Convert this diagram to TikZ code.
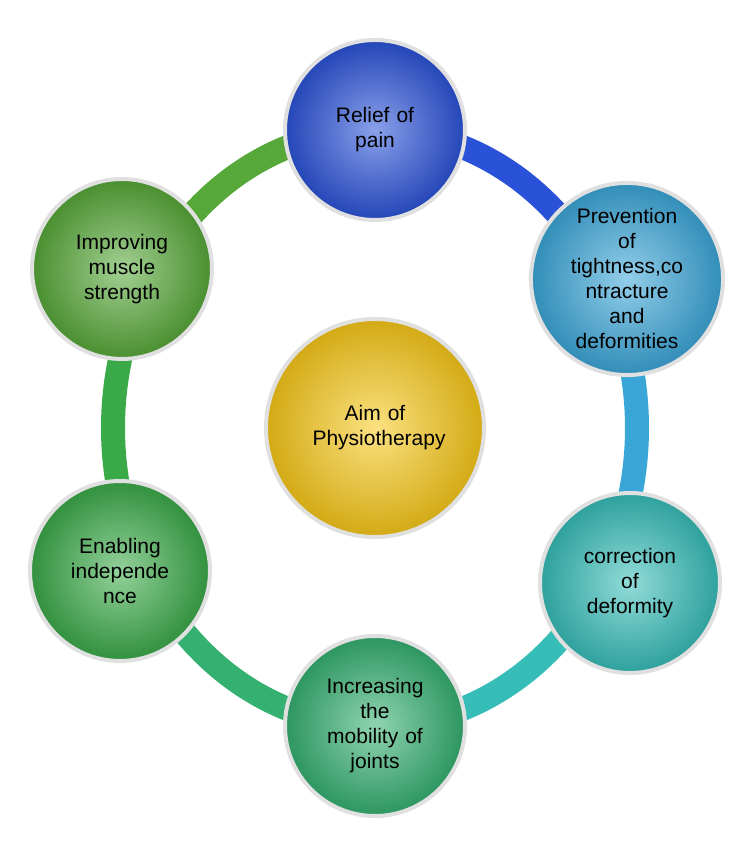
\documentclass[tikz,border=0pt]{standalone}
\usepackage{fontspec}
\setmainfont{Liberation Sans}
\usetikzlibrary{positioning,shadings}
\definecolor{cTop}{HTML}{2A52D8}
\definecolor{cTR}{HTML}{3AA6D8}
\definecolor{cBR}{HTML}{36BDB8}
\definecolor{cBot}{HTML}{34B070}
\definecolor{cBL}{HTML}{3AAA48}
\definecolor{cTL}{HTML}{56A838}
\definecolor{cMid}{HTML}{F8C818}
\tikzset{
  aim/.style={circle, minimum size=#1, draw=black!12, line width=4pt, align=center,
    font=\fontsize{21}{25}\selectfont, text width=125pt},
  glow/.style={shading=radial, inner color=#1!55!white, outer color=#1!85!black},
  ring/.style={line width=24pt}
}
\begin{document}
\begin{tikzpicture}[x=1pt,y=1pt]
    \useasboundingbox (0,0) rectangle (750,849);
    % ring segments
    \def\rx{262}\def\ry{298}
    \foreach \a/\b/\c in {90/30/cTop, 30/-30/cTR, -30/-90/cBR, -90/-150/cBot, -150/-210/cBL, 150/90/cTL}
        \draw[ring, \c] (375,421) ++(\a:\rx pt and \ry pt) arc[start angle=\a, end angle=\b, x radius=\rx, y radius=\ry];
    % circles
    \node[aim=218pt, glow=cMid] (mid) at (375,421) {Aim of\\Physiotherapy};
    \node[aim=180pt, glow=cTop] (top) at (375,719) {Relief of\\pain};
    \node[aim=180pt, glow=cTR, text width=118pt] (tr) at (627,570) {Prevention\\of\\tightness,co\\ntracture\\and\\deformities};
    \node[aim=180pt, glow=cBR] (br) at (630,266) {correction\\of\\deformity};
    \node[aim=180pt, glow=cBot] (bot) at (375,123) {Increasing\\the\\mobility of\\joints};
    \node[aim=180pt, glow=cBL] (bl) at (120,278) {Enabling\\independe\\nce};
    \node[aim=180pt, glow=cTL] (tl) at (122,580) {Improving\\muscle\\strength};
\end{tikzpicture}
\end{document}
